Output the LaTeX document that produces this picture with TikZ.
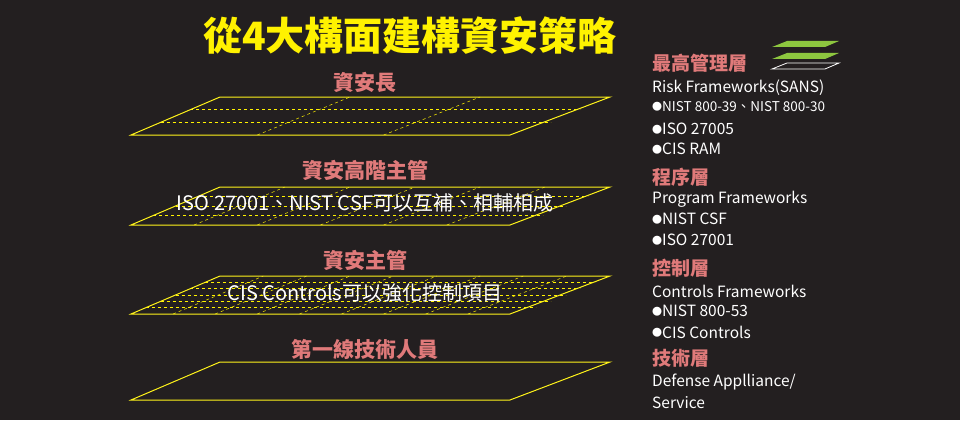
\documentclass[tikz,border=0pt]{standalone}
\usepackage{fontspec}
\setmainfont{Noto Sans CJK TC}
\newcommand{\bul}{\raisebox{1.5pt}{\fontsize{10}{10}\selectfont●}}
\begin{document}
\begin{tikzpicture}[x=1pt,y=-1pt,
  plane/.style={draw=yellow!90!white,line width=1pt},
  grid/.style={draw=yellow,dashed,line width=0.5pt},
  lab/.style={text=pinklab,font=\bfseries\fontsize{21}{21}\selectfont,anchor=center},
  over/.style={text=white,font=\fontsize{20}{20}\selectfont,anchor=center},
  rt/.style={text=white,font=\fontsize{15.5}{16}\selectfont,anchor=west,inner sep=0},
  rh/.style={text=pinklab,font=\bfseries\fontsize{19}{19}\selectfont,anchor=west,inner sep=0}]
\definecolor{pinklab}{HTML}{E07A7A}
\definecolor{bg}{HTML}{231F20}
\definecolor{gr}{HTML}{8DC63F}
\fill[bg] (0,0) rectangle (960,420);
\useasboundingbox (0,0) rectangle (960,420);
\node[text=yellow,font=\bfseries\fontsize{39}{39}\selectfont] (title) at (410,36) {從4大構面建構資安策略};
% planes
\newcommand{\plane}[3]{% top y, rows, cols
  \foreach \r in {1,...,#2}{
    \pgfmathsetmacro{\f}{\r/(#2+1)}
    \draw[grid] ({220-89*\f},{#1+38*\f}) -- ({610-89*\f},{#1+38*\f});}
  \foreach \c in {1,...,#3}{
    \pgfmathsetmacro{\g}{\c/(#3+1)}
    \draw[grid] ({131+379*\g},{#1+38}) -- ({220+390*\g},#1);}
  \draw[plane] (220,#1) -- (610,#1) -- (510,{#1+38}) -- (131,{#1+38}) -- cycle;}
\plane{97}{2}{2}
\plane{187}{3}{5}
\plane{276}{5}{8}
\draw[plane] (220,362) -- (610,362) -- (510,400) -- (131,400) -- cycle;
\node[lab] (l1) at (365,82) {資安長};
\node[lab] (l2) at (365,170) {資安高階主管};
\node[lab] (l3) at (365,260) {資安主管};
\node[lab] (l4) at (365,349) {第一線技術人員};
\node[over] (o2) at (365,203) {ISO 27001、NIST CSF可以互補、相輔相成};
\node[over] (o3) at (365,293) {CIS Controls可以強化控制項目};
% icon
\fill[gr] (787,41) -- (839,41) -- (825,47) -- (772,47) -- cycle;
\fill[gr] (787,53) -- (839,53) -- (825,59) -- (772,59) -- cycle;
\draw[white,line width=0.8pt] (787,63) -- (839,63) -- (825,69) -- (772,69) -- cycle;
% right column
\node[rh] (h1) at (652,63) {最高管理層};
\node[rt] at (652,88) {Risk Frameworks(SANS)};
\node[rt] at (652,107) {\bul{\fontsize{13.5}{13}\selectfont NIST 800-39、NIST 800-30}};
\node[rt] at (652,129) {\bul ISO 27005};
\node[rt] at (652,149) {\bul CIS RAM};
\node[rh] (h2) at (652,177) {程序層};
\node[rt] at (652,199) {Program Frameworks};
\node[rt] at (652,219) {\bul NIST CSF};
\node[rt] at (652,240) {\bul ISO 27001};
\node[rh] (h3) at (652,268) {控制層};
\node[rt] at (652,291) {Controls Frameworks};
\node[rt] at (652,311) {\bul NIST 800-53};
\node[rt] at (652,332) {\bul CIS Controls};
\node[rh] (h4) at (652,358) {技術層};
\node[rt] at (652,382) {Defense Applliance/};
\node[rt] at (652,403) {Service};
\end{tikzpicture}
\end{document}
